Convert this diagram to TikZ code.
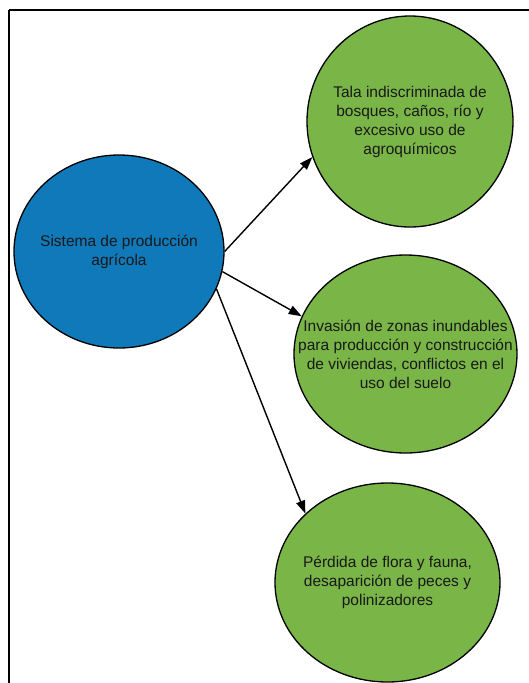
\documentclass[tikz,border=0pt]{standalone}
\usepackage{fontspec}
\setmainfont{Liberation Sans}
\usetikzlibrary{shapes.geometric,arrows.meta}
\definecolor{bluefill}{RGB}{16,121,186}
\definecolor{greenfill}{RGB}{122,181,72}
\begin{document}
\begin{tikzpicture}[x=1pt,y=-1pt,
  oval/.style={shape=ellipse,draw=black,line width=1.3pt,inner sep=0pt},
  txt/.style={align=center,font=\fontsize{15.5}{19}\selectfont,text=black!90,inner sep=0pt},
  conn/.style={line width=1.4pt,-{Triangle[length=13pt,width=9pt]}}]
\useasboundingbox (0,0) rectangle (529,683);
\begin{scope}
\clip (0,0) rectangle (529,683);
\draw[line width=2pt] (9,10) -- (560,10);
\draw[line width=2pt] (9,10) -- (9,700);
\end{scope}
\node[oval,fill=bluefill,minimum width=210pt,minimum height=193pt] (src) at (119,251.5) {};
\node[txt] (srct) at (src.center) {Sistema de producción\\agrícola};
\node[oval,fill=greenfill,minimum width=206pt,minimum height=211pt] (g1) at (410,121.5) {};
\node[txt] (g1t) at (g1.center) {Tala indiscriminada de\\bosques, caños, río y\\excesivo uso de\\agroquímicos};
\node[oval,fill=greenfill,minimum width=223pt,minimum height=198pt] (g2) at (405.5,354) {};
\node[txt] (g2t) at (g2.center) {Invasión de zonas inundables\\para producción y construcción\\de viviendas, conflictos en el\\uso del suelo};
\node[oval,fill=greenfill,minimum width=225pt,minimum height=199pt] (g3) at (387.5,582.5) {};
\node[txt] (g3t) at (g3.center) {Pérdida de flora y fauna,\\desaparición de peces y\\polinizadores};
\draw[conn] (src.0) -- (g1.200.4);
\draw[conn] (src.-11.8) -- (g2.160.2);
\draw[conn] (src.-21.9) -- (g3.140.2);
\end{tikzpicture}
\end{document}
